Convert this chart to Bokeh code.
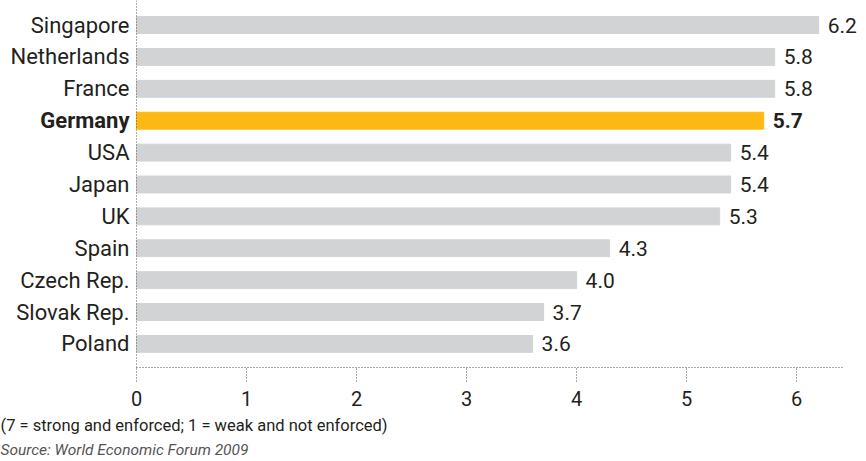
from bokeh.plotting import figure
from bokeh.models import Range1d, FixedTicker, ColumnDataSource, Span, Title
from bokeh.core.properties import value
from bokeh.embed import file_html
from bokeh.resources import INLINE

countries = ["Singapore", "Netherlands", "France", "Germany", "USA", "Japan",
             "UK", "Spain", "Czech Rep.", "Slovak Rep.", "Poland"]
scores = [6.2, 5.8, 5.8, 5.7, 5.4, 5.4, 5.3, 4.3, 4.0, 3.7, 3.6]
highlight = "Germany"
x_ticks = [0, 1, 2, 3, 4, 5, 6]
note = "(7 = strong and enforced; 1 = weak and not enforced)"
source_note = "Source: World Economic Forum 2009"

GRAY = "#d1d3d4"
GOLD = "#fdb913"
TEXT = "#231f20"
DOT = "#555555"
FONT = "Roboto"

n = len(countries)
ypos = [n - 1 - i for i in range(n)]

base = {"y": [], "v": [], "lab": [], "name": []}
hi = {"y": [], "v": [], "lab": [], "name": []}
for c, v, y in zip(countries, scores, ypos):
    d = hi if c == highlight else base
    d["y"].append(y)
    d["v"].append(v)
    d["lab"].append(f"{v:.1f}")
    d["name"].append(c)

p = figure(width=860, height=461, output_backend="svg", toolbar_location=None,
           x_range=Range1d(-1.236, 6.58), y_range=Range1d(-0.74, n - 1 + 0.77),
           y_axis_location=None,
           min_border_left=0, min_border_right=0, min_border_top=0,
           min_border_bottom=94)
p.outline_line_color = None
p.grid.grid_line_color = None
p.background_fill_color = "white"

src_b = ColumnDataSource(base)
src_h = ColumnDataSource(hi)
p.hbar(y="y", right="v", left=0, height=0.53, color=GRAY, source=src_b)
p.hbar(y="y", right="v", left=0, height=0.53, color=GOLD, source=src_h)

# value labels
p.text(x="v", y="y", text="lab", source=src_b, x_offset=9,
       text_baseline="middle", text_align="left", text_font=value(FONT),
       text_font_size="21px", text_color=TEXT)
p.text(x="v", y="y", text="lab", source=src_h, x_offset=9,
       text_baseline="middle", text_align="left", text_font=value(FONT),
       text_font_size="21px", text_font_style="bold", text_color=TEXT)

# category labels
p.text(x=0, y="y", text="name", source=src_b, x_offset=-7,
       text_baseline="middle", text_align="right", text_font=value(FONT),
       text_font_size="22px", text_color=TEXT)
p.text(x=0, y="y", text="name", source=src_h, x_offset=-7,
       text_baseline="middle", text_align="right", text_font=value(FONT),
       text_font_size="22px", text_font_style="bold", text_color=TEXT)

# vertical dotted axis line at zero
p.add_layout(Span(location=0, dimension="height", line_color=DOT,
                  line_dash="1 2", line_width=1))

# x axis
xa = p.xaxis[0]
xa.ticker = FixedTicker(ticks=x_ticks)
xa.bounds = (0, 6.418)
xa.axis_line_dash = "1 2"
xa.axis_line_color = DOT
xa.major_tick_line_dash = "1 2"
xa.major_tick_line_color = DOT
xa.major_tick_in = 0
xa.major_tick_out = 14
xa.minor_tick_out = 0
xa.minor_tick_in = 0
xa.major_label_standoff = 9
xa.major_label_text_font = FONT
xa.major_label_text_font_size = "20px"
xa.major_label_text_color = TEXT

p.add_layout(Title(text=note, align="left", text_font=FONT,
                   text_font_size="16.5px", text_font_style="normal",
                   text_color=TEXT, standoff=11), "below")
p.add_layout(Title(text=source_note, align="left", text_font=FONT,
                   text_font_size="15.5px", text_font_style="italic",
                   text_color="#555555", standoff=-4), "below")

open("out.html", "w").write(file_html(p, INLINE))
